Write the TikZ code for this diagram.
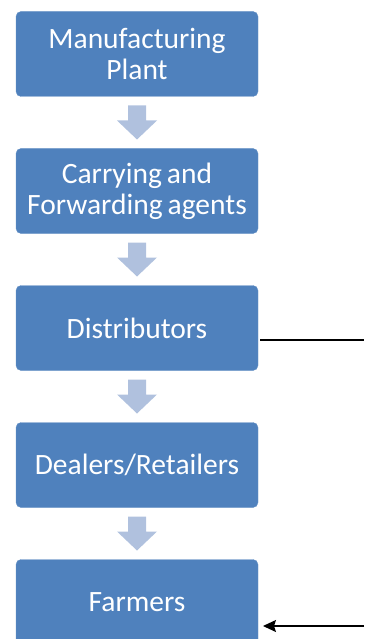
\documentclass[tikz,border=0pt]{standalone}
\usepackage{fontspec}
\setmainfont{Carlito}
\usetikzlibrary{positioning,calc,arrows.meta}
\definecolor{boxblue}{HTML}{4F81BD}
\definecolor{arrowblue}{HTML}{B0C1DE}

\begin{document}
\begin{tikzpicture}[x=1pt,y=1pt]
\tikzstyle{stage}=[rectangle,rounded corners=5pt,fill=boxblue,draw=boxblue!85!white,text=white,font=\fontsize{29.5}{31}\selectfont,execute at begin node={\spaceskip=5pt\relax},minimum width=242pt,minimum height=85pt,text width=236pt,align=center,inner sep=0pt,outer sep=0pt]
\clip (0,0) rectangle (364,-639);
\node[stage](plant) at (137,-54){Manufacturing\\Plant};
\node[stage,below=52pt of plant](agents){Carrying and\\Forwarding agents};
\node[stage,below=52pt of agents](dist){Distributors};
\node[stage,below=52pt of dist](dealers){Dealers/Retailers};
\node[stage,below=52pt of dealers](farmers){Farmers};
% flow arrows
\foreach \a/\b in {plant/agents,agents/dist,dist/dealers,dealers/farmers}
  \fill[arrowblue,shift={($(\a.south)!0.5!(\b.north)$)}](-9,17)--(9,17)--(9,2)--(20,2)--(0,-17)--(-20,2)--(-9,2)--cycle;
\coordinate (outend) at (364,-340);
\coordinate (inend) at (364,-626);
\draw[line width=1.3pt,shorten <=2pt](dist.east |- outend)--(outend);
\draw[line width=1.3pt,-{Stealth[length=13pt,width=12pt,inset=2pt]},shorten >=5pt](inend)--(farmers.east |- inend);
\end{tikzpicture}
\end{document}
